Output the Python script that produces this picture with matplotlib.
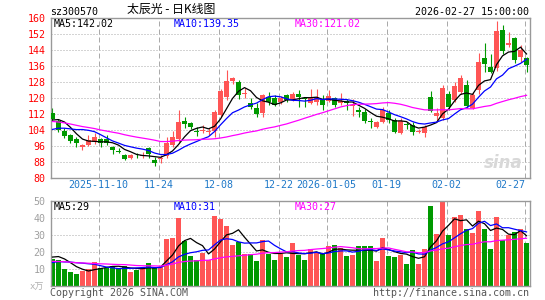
import numpy as np
import pandas as pd
import matplotlib
matplotlib.use("Agg")
import matplotlib.pyplot as plt
from matplotlib.transforms import blended_transform_factory

# ---- data ----
opens = [112.3, 108.5, 103.5, 101.5, 99.5, 95.6, 96.5, 97.8, 99.5, 99.5,
         95.5, 93.6, 91.5, 89.8, 91.2, 90.8, 95.0, 89.0, 89.5, 90.8,
         96.5, 99.5, 108.5, 107.3, 103.5, 103.6, 102.8, 103.5, 111.5, 120.3,
         128.3, 128.0, 122.0, 117.7, 114.8, 112.5, 120.5, 120.0, 118.0, 121.5,
         119.3, 122.0, 120.0, 117.7, 118.2, 119.0, 118.7, 119.8, 117.5, 118.5,
         116.0, 114.2, 113.2, 108.4, 105.7, 108.2, 112.3, 109.0, 102.3, 107.0,
         106.5, 103.2, 102.7, 120.7, 110.8, 110.0, 121.8, 119.0, 123.2, 126.5,
         115.0, 124.0, 139.8, 135.7, 135.0, 154.0, 146.5, 149.8, 140.7, 139.8]
closes = [109.5, 104.0, 101.0, 98.5, 97.5, 96.3, 99.0, 100.3, 97.3, 97.5,
          94.0, 93.2, 89.5, 91.5, 90.8, 91.3, 92.2, 87.6, 89.8, 97.3,
          100.7, 108.2, 106.8, 105.3, 103.1, 104.1, 103.6, 113.2, 123.5, 128.7,
          129.8, 121.5, 122.5, 115.7, 111.8, 121.5, 118.0, 116.5, 120.0, 119.0,
          122.0, 120.5, 119.5, 119.8, 120.3, 116.5, 121.0, 116.5, 118.5, 117.5,
          116.5, 113.0, 108.7, 108.1, 108.2, 114.0, 109.0, 103.2, 108.5, 106.3,
          103.2, 103.6, 105.7, 113.5, 112.5, 125.0, 115.5, 126.0, 130.0, 116.0,
          121.5, 138.0, 137.2, 133.2, 153.5, 143.5, 147.5, 138.8, 143.8, 136.5]
highs = [115.0, 109.5, 105.0, 102.0, 100.5, 97.0, 101.5, 102.5, 100.0, 101.5,
         96.0, 95.0, 92.0, 92.0, 92.3, 93.2, 95.5, 90.7, 91.5, 100.7,
         103.5, 114.0, 110.7, 108.0, 105.5, 106.5, 104.8, 113.8, 124.5, 134.0,
         130.5, 129.0, 125.0, 119.8, 117.3, 122.0, 123.0, 121.5, 121.0, 122.0,
         123.0, 124.0, 120.7, 124.5, 124.3, 121.5, 124.0, 120.5, 122.3, 119.5,
         119.5, 115.7, 114.5, 109.8, 108.5, 115.7, 114.0, 110.0, 110.0, 108.0,
         108.2, 104.5, 106.5, 123.7, 115.0, 126.5, 123.5, 128.0, 131.5, 129.0,
         123.0, 142.5, 147.5, 142.0, 158.5, 156.5, 153.0, 150.5, 146.5, 140.7]
lows = [108.5, 103.0, 100.0, 97.5, 95.5, 94.0, 96.0, 97.0, 95.5, 96.5,
        92.0, 92.3, 89.0, 89.3, 89.8, 90.0, 90.0, 86.2, 87.5, 90.0,
        95.5, 98.2, 105.0, 104.5, 101.2, 102.7, 101.6, 100.5, 110.5, 119.0,
        127.0, 119.5, 119.8, 114.5, 110.7, 110.7, 116.5, 116.0, 117.0, 118.0,
        118.5, 115.3, 115.7, 117.0, 116.5, 114.0, 118.0, 115.5, 116.5, 114.0,
        111.0, 110.3, 107.3, 104.8, 105.0, 107.5, 107.5, 102.5, 102.0, 104.5,
        101.5, 102.3, 100.7, 113.0, 108.2, 109.0, 114.0, 118.0, 122.0, 115.0,
        114.5, 122.0, 133.0, 132.3, 133.5, 142.0, 145.5, 137.3, 138.0, 133.0]
volumes = [16.1, 15.5, 10.0, 8.0, 7.3, 8.6, 10.2, 14.1, 10.8, 10.8,
           11.6, 10.8, 11.6, 8.2, 9.6, 10.8, 13.3, 10.8, 11.2, 27.4,
           28.4, 39.9, 26.5, 17.8, 15.1, 19.4, 15.5, 40.9, 39.2, 35.3,
           24.0, 26.0, 19.0, 19.0, 15.0, 27.2, 19.0, 15.5, 19.0, 17.1,
           25.3, 18.4, 15.1, 21.6, 20.0, 19.0, 23.3, 23.9, 22.6, 17.5,
           18.0, 23.3, 23.3, 23.3, 14.7, 28.3, 17.7, 17.1, 18.0, 12.7,
           21.0, 12.7, 21.6, 46.9, 30.8, 49.4, 29.8, 40.6, 41.6, 33.3,
           31.0, 44.0, 33.3, 21.6, 40.5, 26.9, 30.2, 31.7, 33.7, 25.3]

# closes / volumes of the days before the window, only used to seed the averages
prev_closes = [112, 114, 116, 117, 115, 113, 116, 118, 114, 111, 109, 112, 110, 108,
               106, 107, 104, 110, 98, 95, 98, 101, 102, 101, 96, 103, 107, 112, 113.5]
prev_volumes = [18, 14, 17, 16, 13, 15, 19, 16, 14, 17, 15, 13, 16, 18, 14, 15, 12, 15,
                11, 9, 10, 12, 9, 11, 11, 14, 17, 19, 19]

date_idx = [8, 18, 28, 38, 46, 56, 66, 79]
date_labels = ["2025-11-10", "11-24", "12-08", "12-22", "2026-01-05", "01-19", "02-02", "02-27"]

code = "sz300570"
title = "太辰光 - 日K线图"
stamp = "2026-02-27 15:00:00"
price_ma_text = ["MA5:142.02", "MA10:139.35", "MA30:121.02"]
vol_ma_text = ["MA5:29", "MA10:31", "MA30:27"]

# ---- styling ----
RED = "#ff5555"
GREEN = "#009900"
MA_COLORS = ["black", "#0000ff", "#ff00ff"]
GRID = "#aaaaaa"
MONO = "DejaVu Sans Mono"
FS = 7.2

n = len(closes)
x = np.arange(n)
up = np.array(closes) >= np.array(opens)
colors = [RED if u else GREEN for u in up]

all_c = pd.Series(prev_closes + closes)
all_v = pd.Series(prev_volumes + volumes)
k = len(prev_closes)
price_ma = [all_c.rolling(w).mean().values[k:] for w in (5, 10, 30)]
vol_ma = [all_v.rolling(w).mean().values[k:] for w in (5, 10, 30)]

W, H = 545, 300
fig = plt.figure(figsize=(W / 100, H / 100), dpi=100)


def fx(px):
    return px / W


def fy(py):
    return 1 - py / H


left, right = 50.5, 530
ax = fig.add_axes([fx(left), fy(178), fx(right - left), 160 / H])
axv = fig.add_axes([fx(left), fy(286), fx(right - left), 85 / H])

xlim = (-0.333, 79.58)
for a in (ax, axv):
    a.set_xlim(*xlim)
    a.set_xticks([])
    for s in a.spines.values():
        s.set_color("#999999")
        s.set_linewidth(1.0)
    for g in date_idx:
        a.axvline(g - 0.33, color=GRID, lw=0.72, ls=(0, (5, 3)), zorder=0)

# price panel
ax.set_ylim(80, 160)
yt = list(range(80, 161, 8))
ax.set_yticks(yt)
ax.set_yticklabels([str(v) for v in yt], family=MONO, fontsize=FS, color="red")
ax.tick_params(axis="y", length=0, pad=3.5)
for v in yt[1:-1]:
    ax.axhline(v, color=GRID, lw=0.72, ls=(0, (1, 2)), zorder=0)

ax.vlines(x, lows, highs, colors=colors, lw=0.8, zorder=2)
body = np.maximum(np.abs(np.array(closes) - np.array(opens)), 0.4)
ax.bar(x, body, bottom=np.minimum(opens, closes), width=0.83, color=colors,
       linewidth=0, zorder=3)
for m, c in zip(price_ma, MA_COLORS):
    ax.plot(x, m, color=c, lw=0.9, zorder=4)

# volume panel
axv.set_ylim(0, 50)
vt = [10, 20, 30, 40, 50]
axv.set_yticks(vt)
axv.set_yticklabels([str(v) for v in vt], family=MONO, fontsize=FS, color="#a0a0a0")
axv.tick_params(axis="y", length=0, pad=3.5)
for v in vt[:-1]:
    axv.axhline(v, color=GRID, lw=0.72, ls=(0, (1, 2)), zorder=0)
axv.bar(x, volumes, width=0.83, color=colors, linewidth=0, zorder=2)
for m, c in zip(vol_ma, MA_COLORS):
    axv.plot(x, m, color=c, lw=0.9, zorder=4)

# texts
fig.text(fx(50), fy(15), code, family=MONO, fontsize=FS, color="black", va="baseline")
fig.text(fx(171.5), fy(9), title, family=["Noto Sans CJK SC", "DejaVu Sans"],
         fontsize=8.6, color="black", ha="center", va="center")
fig.text(fx(529), fy(15), stamp, family=MONO, fontsize=FS, color="black",
         ha="right", va="baseline")

for t, c, px in zip(price_ma_text, MA_COLORS, (54, 174, 295)):
    fig.text(fx(px), fy(27.3), t, family=MONO, fontsize=FS, color=c, va="baseline")
for t, c, px in zip(vol_ma_text, MA_COLORS, (54, 174, 295)):
    fig.text(fx(px), fy(210.3), t, family=MONO, fontsize=FS, color=c, va="baseline")

# date labels: x in data units, y in figure units
trans = blended_transform_factory(ax.transData, fig.transFigure)
for i, (g, lab) in enumerate(zip(date_idx, date_labels)):
    last = i == len(date_idx) - 1
    fig.text(g - 0.2 if last else g - 0.33, fy(188.5), lab, transform=trans,
             family=MONO, fontsize=FS, color="#1e78c8",
             ha="right" if last else "center", va="baseline")

fig.text(fx(44), fy(287), "x万", family=[MONO, "Noto Sans CJK SC"], fontsize=6.5,
         color="#b0b0b0", ha="right", va="center")
fig.text(fx(50), fy(295.5), "Copyright 2026 SINA.COM", family=MONO, fontsize=FS,
         color="#555555", va="baseline")
fig.text(fx(529), fy(295.5), "http://finance.sina.com.cn", family=MONO, fontsize=FS,
         color="#555555", ha="right", va="baseline")
fig.text(fx(503), fy(163), "sina", family="DejaVu Sans", fontsize=12, style="italic",
         weight="bold", color="#d8d8d8", ha="center", va="center", zorder=1)

fig.savefig("out.png", dpi=100)
